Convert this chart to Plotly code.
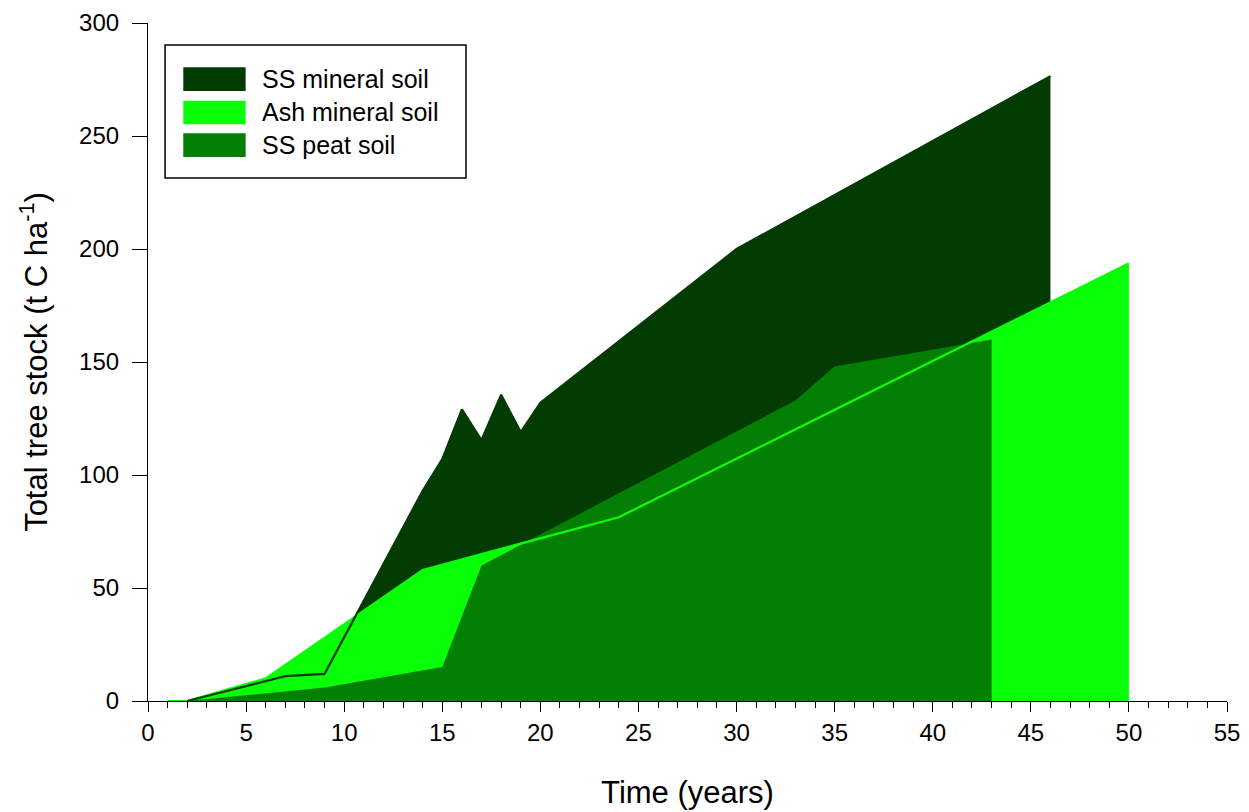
import plotly.graph_objects as go

# Data
ss_mineral_x = [2, 6, 7, 9, 14, 15, 16, 17, 18, 19, 20, 30, 46]
ss_mineral_y = [0, 9, 11, 12, 93, 107, 129, 115.5, 135.5, 119, 132, 200, 276.5]

ash_mineral_x = [1, 2, 6, 14, 24, 50]
ash_mineral_y = [0, 0, 10, 58, 81.3, 193.7]

ss_peat_x = [2, 9, 15, 17, 33, 35, 43]
ss_peat_y = [0, 6, 15, 60, 133, 148, 160]

series_names = ["SS mineral soil", "Ash mineral soil", "SS peat soil"]
colors = ["#033c03", "#08ff08", "#037f03"]

FONT = "Liberation Sans, Arial, sans-serif"

fig = go.Figure()

# Filled areas
fig.add_trace(go.Scatter(x=ss_mineral_x, y=ss_mineral_y, fill="tozeroy", mode="lines",
                         line=dict(width=0, color=colors[0]), fillcolor=colors[0],
                         name=series_names[0], showlegend=False, hoverinfo="skip"))
fig.add_trace(go.Scatter(x=ash_mineral_x, y=ash_mineral_y, fill="tozeroy", mode="lines",
                         line=dict(width=0, color=colors[1]), fillcolor=colors[1],
                         name=series_names[1], showlegend=False, hoverinfo="skip"))
fig.add_trace(go.Scatter(x=ss_peat_x, y=ss_peat_y, fill="tozeroy", mode="lines",
                         line=dict(width=0, color=colors[2]), fillcolor=colors[2],
                         name=series_names[2], showlegend=False, hoverinfo="skip"))
# Outline lines drawn on top
fig.add_trace(go.Scatter(x=ash_mineral_x, y=ash_mineral_y, mode="lines",
                         line=dict(width=2.2, color=colors[1]), showlegend=False))
fig.add_trace(go.Scatter(x=ss_mineral_x, y=ss_mineral_y, mode="lines",
                         line=dict(width=2.2, color=colors[0]), showlegend=False))

# Manual legend (box + swatches + labels)
shapes = [dict(type="rect", xref="paper", yref="paper", x0=0.0158, x1=0.2947,
               y0=0.7714, y1=0.9676, line=dict(color="black", width=1.5),
               fillcolor="white", layer="above")]
rows = [(0.9346, 0.8997, 0.9174), (0.8854, 0.8506, 0.8680), (0.8373, 0.8024, 0.8196)]
annotations = []
for (ytop, ybot, ytxt), c, nm in zip(rows, colors, series_names):
    shapes.append(dict(type="rect", xref="paper", yref="paper", x0=0.0327, x1=0.0905,
                       y0=ybot, y1=ytop, line=dict(width=0), fillcolor=c, layer="above"))
    annotations.append(dict(xref="paper", yref="paper", x=0.1038, y=ytxt, text=nm,
                            showarrow=False, xanchor="left", yanchor="middle",
                            font=dict(family=FONT, size=25, color="black")))

fig.update_layout(
    width=1249, height=812,
    margin=dict(l=148, r=22, t=23, b=111),
    paper_bgcolor="white", plot_bgcolor="white",
    font=dict(family=FONT, color="black"),
    shapes=shapes, annotations=annotations,
    showlegend=False,
)
fig.update_xaxes(
    range=[0, 55], tickmode="linear", tick0=0, dtick=5, automargin=False,
    ticks="outside", ticklen=10, tickwidth=1.2, tickcolor="black",
    minor=dict(dtick=1, ticks="outside", ticklen=6, tickcolor="black", tickwidth=1),
    showline=True, linecolor="black", linewidth=1.2, showgrid=False, zeroline=False,
    tickfont=dict(family=FONT, size=24, color="black"),
    title=dict(text="Time (years)", font=dict(family=FONT, size=31, color="black"), standoff=36),
)
fig.update_yaxes(
    range=[0, 300], tickmode="linear", tick0=0, dtick=50, automargin=False,
    ticks="outside", ticklen=15, tickwidth=1.2, tickcolor="black",
    ticklabelstandoff=8,
    showline=True, linecolor="black", linewidth=1.2, showgrid=False, zeroline=False,
    tickfont=dict(family=FONT, size=24, color="black"),
    title=dict(text="Total tree stock (t C ha<sup>-1</sup>)",
               font=dict(family=FONT, size=31, color="black"), standoff=22),
)

fig.write_html("out.html")
